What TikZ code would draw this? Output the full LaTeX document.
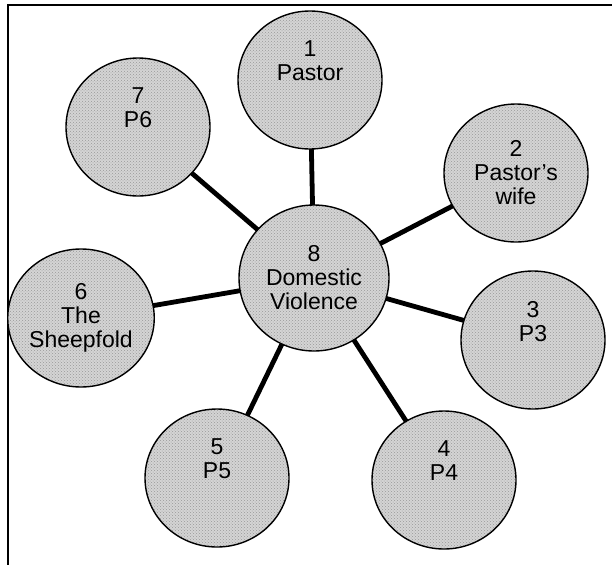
\documentclass[tikz,border=0pt]{standalone}
\usepackage{fontspec}
\setmainfont{Liberation Sans}
\usetikzlibrary{shapes.geometric,backgrounds,patterns}

\tikzset{
  bubble/.style={ellipse, draw=black, line width=1.4pt,
    preaction={fill=black!17}, pattern=crosshatch dots, pattern color=black!40,
    inner sep=0pt, minimum width=144pt, minimum height=138pt,
    align=center, font=\fontsize{23}{24}\selectfont},
  spoke/.style={line width=4.8pt, black},
  frameline/.style={line width=1.3pt, black}
}

\begin{document}
\begin{tikzpicture}[x=1pt,y=-1pt]
  \useasboundingbox (0,0) rectangle (612,565);

  % open frame: top and left edges only
  \coordinate (ftr) at (612,5);
  \coordinate (ftl) at (8,5);
  \coordinate (fbl) at (8,565);
  \draw[frameline] (ftr) -- (ftl) -- (fbl);

  % hub and the seven surrounding bubbles
  \node[bubble, minimum width=150pt, minimum height=146pt] (c8) at (314,278) {8\\Domestic\\Violence};
  \node[bubble] (c1) at (310,80)  {1\\Pastor\\[14pt]};
  \node[bubble] (c2) at (516,173) {2\\Pastor's\\wife};
  \node[bubble] (c3) at (533,340) {3\\P3\\[14pt]};
  \node[bubble] (c4) at (444,480) {4\\P4\\[14pt]};
  \node[bubble] (c5) at (217,478) {5\\P5\\[14pt]};
  \node[bubble] (c6) at (81,318)  {6\\The\\Sheepfold};
  \node[bubble] (c7) at (138,127) {7\\P6\\[14pt]};

  % spokes behind the bubbles
  \begin{pgfonlayer}{background}
    \foreach \k in {1,...,7}
      \draw[spoke] (c8.center) -- (c\k.center);
  \end{pgfonlayer}
\end{tikzpicture}
\end{document}
